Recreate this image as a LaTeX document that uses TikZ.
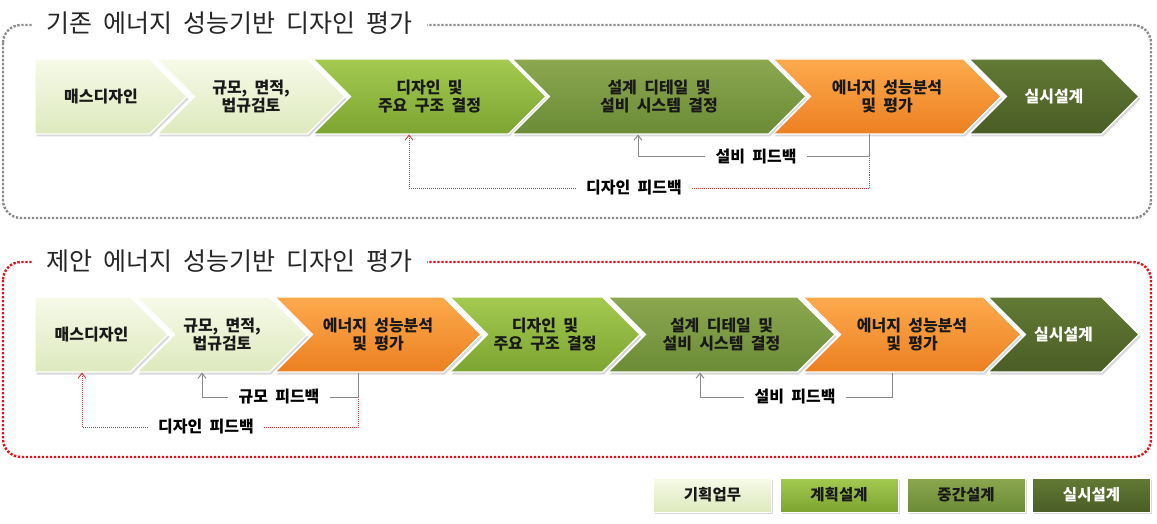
\documentclass[tikz,border=0pt]{standalone}
\usepackage{fontspec}
\setmainfont{Noto Sans CJK KR}[WordSpace=2]
\usepackage{tikz}
\usetikzlibrary{arrows.meta,shadows}

\definecolor{planhi}{HTML}{F6FAE8}
\definecolor{planlo}{HTML}{DEE9BE}
\definecolor{schemhi}{HTML}{A4CA50}
\definecolor{schemlo}{HTML}{7CA431}
\definecolor{midhi}{HTML}{8BA84F}
\definecolor{midlo}{HTML}{6C8B37}
\definecolor{exechi}{HTML}{627A35}
\definecolor{execlo}{HTML}{4A5D25}
\definecolor{orghi}{HTML}{FDAA4C}
\definecolor{orglo}{HTML}{EC8022}
\definecolor{fbgray}{HTML}{8A8A8A}
\definecolor{fbred}{HTML}{D23C3C}
\definecolor{boxgray}{HTML}{8C8C8C}
\definecolor{boxred}{HTML}{E3121B}

\tikzset{
  fplan/.style={top color=planhi, bottom color=planlo},
  fschem/.style={top color=schemhi, bottom color=schemlo},
  fmid/.style={top color=midhi, bottom color=midlo},
  fexec/.style={top color=exechi, bottom color=execlo},
  forange/.style={top color=orghi, bottom color=orglo},
  stagebox/.style={draw=white, line width=1.2pt,
    drop shadow={opacity=0.3, shadow xshift=1.5pt, shadow yshift=-2.5pt}},
  stagetext/.style={align=center, text=black!90,
    font=\bfseries\fontsize{16}{17.5}\selectfont},
  fblabel/.style={inner xsep=10pt, inner ysep=2pt,
    font=\bfseries\fontsize{16}{18}\selectfont},
  fbtip/.style={-{Straight Barb[length=5pt,width=8pt]}},
  grayback/.style={draw=fbgray, line width=1pt},
  redback/.style={draw=fbred, line width=0.9pt, dash pattern=on 1pt off 1pt},
  frame/.style={line width=2.4pt, dash pattern=on 2.4pt off 1.6pt, rounded corners=18pt},
  frametitle/.style={anchor=west, fill=white, inner xsep=14pt, text=black!85,
    font=\fontsize{25}{28}\selectfont},
  legbox/.style={draw=white, line width=1pt, minimum width=118pt, minimum height=34pt,
    drop shadow={opacity=0.3, shadow xshift=1.5pt, shadow yshift=-2pt},
    text=black!90, font=\bfseries\fontsize{15.5}{18}\selectfont}
}

% #1 fill, #2 name, #3 left x, #4 tip x, #5 mid y, #6 notch (1) or flat (0), #7 text
\newcommand{\drawstage}[7]{%
  \path[stagebox,#1] (#3,#5-37.5) -- ({#4-37.5},#5-37.5) -- (#4,#5)
    -- ({#4-37.5},#5+37.5) -- (#3,#5+37.5) -- ({#3+37.5*#6},#5) -- cycle;
  \node[stagetext] (#2) at ({(#3+#4)/2-10*(1-#6)},#5) {#7};}

\begin{document}
\begin{tikzpicture}[x=1pt, y=-1pt]
  \useasboundingbox (0,0) rectangle (1157,524);

  % current process
  \draw[frame, boxgray] (3,25) rectangle (1151,218);
  \node[frametitle] (T1) at (32,23) {기존 에너지 성능기반 디자인 평가};

  \drawstage{fplan}{A1}{35}{187}{96.5}{0}{매스디자인}
  \drawstage{fplan}{A2}{157}{345}{96.5}{1}{규모, 면적,\\법규검토}
  \drawstage{fschem}{A3}{313}{546}{96.5}{1}{디자인 및\\주요 구조 결정}
  \drawstage{fmid}{A4}{512}{806}{96.5}{1}{설계 디테일 및\\설비 시스템 결정}
  \drawstage{forange}{A5}{773}{1001}{96.5}{1}{에너지 성능분석\\및 평가}
  \drawstage{fexec}{A6}{969}{1139}{96.5}{1}{\textcolor{white}{실시설계}}

  \coordinate (A3s) at (409,134.5);
  \coordinate (A4s) at (638,134.5);
  \coordinate (A5s) at (869,134.5);
  \node[fblabel] (FA1) at (756,157) {설비 피드백};
  \node[fblabel] (FA2) at (634,188) {디자인 피드백};
  \draw[redback] (A5s) |- (FA2);
  \draw[redback, fbtip] (FA2) -| (A3s);
  \draw[grayback] (A5s) |- (FA1);
  \draw[grayback, fbtip] (FA1) -| (A4s);

  % proposed process
  \draw[frame, boxred] (3,262) rectangle (1151,457);
  \node[frametitle] (T2) at (32,261) {제안 에너지 성능기반 디자인 평가};

  \drawstage{fplan}{B1}{35}{168}{334.5}{0}{매스디자인}
  \drawstage{fplan}{B2}{137}{307}{334.5}{1}{규모, 면적,\\법규검토}
  \drawstage{forange}{B3}{275}{481}{334.5}{1}{에너지 성능분석\\및 평가}
  \drawstage{fschem}{B4}{450}{640}{334.5}{1}{디자인 및\\주요 구조 결정}
  \drawstage{fmid}{B5}{608}{835}{334.5}{1}{설계 디테일 및\\설비 시스템 결정}
  \drawstage{forange}{B6}{803}{1021}{334.5}{1}{에너지 성능분석\\및 평가}
  \drawstage{fexec}{B7}{988}{1139}{334.5}{1}{\textcolor{white}{실시설계}}

  \coordinate (B1s) at (82,372.5);
  \coordinate (B2s) at (202,372.5);
  \coordinate (B3s) at (358,372.5);
  \coordinate (B5s) at (700,372.5);
  \coordinate (B6s) at (892,372.5);
  \node[fblabel] (FB1) at (279,397) {규모 피드백};
  \node[fblabel] (FB2) at (206,427) {디자인 피드백};
  \node[fblabel] (FB3) at (795,397) {설비 피드백};
  \draw[redback] (B3s) |- (FB2);
  \draw[redback, fbtip] (FB2) -| (B1s);
  \draw[grayback] (B3s) |- (FB1);
  \draw[grayback, fbtip] (FB1) -| (B2s);
  \draw[grayback] (B6s) |- (FB3);
  \draw[grayback, fbtip] (FB3) -| (B5s);

  % legend
  \node[legbox, fplan] (L1) at (712.5,495) {기획업무};
  \node[legbox, fschem] (L2) at (839,495) {계획설계};
  \node[legbox, fmid] (L3) at (966,495) {중간설계};
  \node[legbox, fexec, text=white] (L4) at (1091.5,495) {실시설계};
\end{tikzpicture}
\end{document}
